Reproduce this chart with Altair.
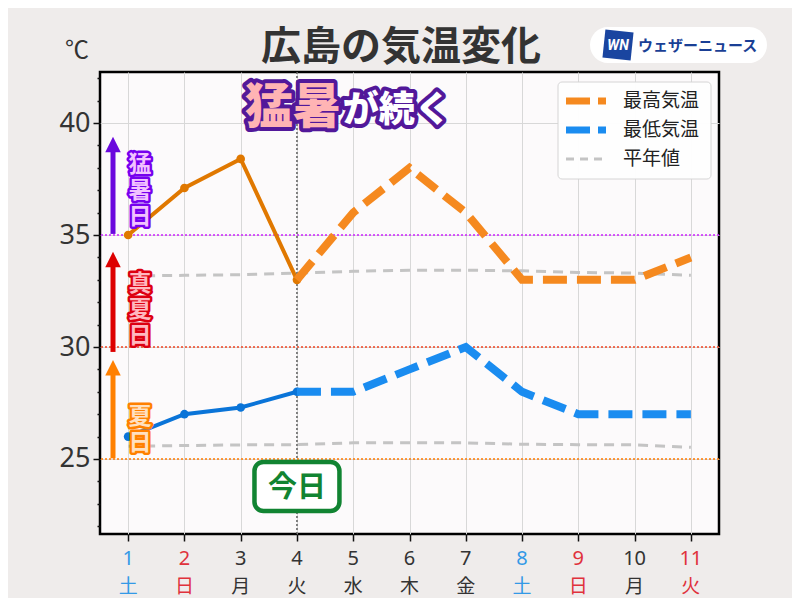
import altair as alt
import pandas as pd

# ---------------- data ----------------
days = list(range(1, 12))
weekdays = ["土", "日", "月", "火", "水", "木", "金", "土", "日", "月", "火"]
day_colors = ["#3399e6", "#e0323c", "#333333", "#333333", "#333333", "#333333",
              "#333333", "#3399e6", "#e0323c", "#333333", "#e0323c"]

obs_days = [1, 2, 3, 4]
obs_high = [35.0, 37.1, 38.4, 33.0]
obs_low = [26.0, 27.0, 27.3, 28.0]

fc_days = [4, 5, 6, 7, 8, 9, 10, 11]
fc_high = [33.0, 36.0, 38.0, 36.0, 33.0, 33.0, 33.0, 34.0]
fc_low = [28.0, 28.0, 29.0, 30.0, 28.0, 27.0, 27.0, 27.0]

normal_high = [33.17, 33.2, 33.23, 33.3, 33.38, 33.43, 33.43, 33.4, 33.33, 33.3, 33.2]
normal_low = [25.57, 25.6, 25.63, 25.64, 25.72, 25.73, 25.72, 25.66, 25.64, 25.63, 25.52]

thresholds = [35, 30, 25]
threshold_colors = ["#cc22ff", "#ee4422", "#ff7a00"]

band_labels = ["猛\n暑\n日", "真\n夏\n日", "夏\n日"]
band_label_y = [38.11, 32.8, 26.86]   # centre of the first character
band_fill = ["#f2c2ff", "#ffb8c0", "#ffe0c0"]
band_stroke = ["#7700ee", "#dd0011", "#ff8000"]
arrow_bottom = [35.05, 29.78, 25.03]
arrow_head = [39.04, 33.91, 29.07]
arrow_colors = ["#6a08dd", "#dd0000", "#ff8000"]

legend_names = ["最高気温", "最低気温", "平年値"]
legend_colors = ["#f5891f", "#1a8cf0", "#c4c4c4"]

today = 4

W, H = 619, 462
FONT = "Noto Sans CJK JP"

xs = alt.Scale(domain=[0.5, 11.5], nice=False, zero=False)
ys = alt.Scale(domain=[21.65, 42.28], nice=False, zero=False)

major = "datum.value % 5 == 0"
x_axis = alt.Axis(
    values=days, labels=False, title=None, domain=False,
    ticks=True, tickSize=7, tickColor="#111", tickWidth=1.5,
    grid=True, gridColor="#d8d8d8", gridWidth=1)
y_axis = alt.Axis(
    values=list(range(22, 43)), title=None, domain=False,
    labelExpr=f"{major} ? datum.label : ''",
    labelFont="Noto Sans", labelFontSize=27, labelColor="#333",
    labelPadding=3,
    tickColor="#111", tickWidth=1.5,
    tickSize={"condition": {"test": major, "value": 7}, "value": 3},
    grid=True, gridColor="#d8d8d8", gridWidth=1,
    gridOpacity={"condition": {"test": major, "value": 1}, "value": 0})

X = lambda f="day": alt.X(f"{f}:Q", scale=xs, axis=x_axis)
Y = lambda f="temp": alt.Y(f"{f}:Q", scale=ys, axis=y_axis)

# ---------------- tables ----------------
normal_df = pd.DataFrame({
    "day": days * 2,
    "temp": normal_high + normal_low,
    "series": ["high"] * len(days) + ["low"] * len(days),
})
obs_df = pd.DataFrame({
    "day": obs_days * 2,
    "temp": obs_high + obs_low,
    "series": ["high"] * len(obs_days) + ["low"] * len(obs_days),
})
fc_df = pd.DataFrame({
    "day": fc_days * 2,
    "temp": fc_high + fc_low,
    "series": ["high"] * len(fc_days) + ["low"] * len(fc_days),
})
thr_df = pd.DataFrame({"temp": thresholds, "color": threshold_colors})
band_df = pd.DataFrame({
    "label": band_labels, "y": band_label_y, "fill": band_fill, "stroke": band_stroke,
    "bottom": arrow_bottom, "head": arrow_head, "acolor": arrow_colors,
    "x": [1.21] * 3, "ax": [0.731] * 3,
})
day_df = pd.DataFrame({"day": days, "num": [str(d) for d in days],
                       "wd": weekdays, "color": day_colors})

# normal lines (also carry the axes)
normal_layer = alt.Chart(normal_df).mark_line(
    color="#c4c4c4", strokeWidth=3, strokeDash=[10, 7]
).encode(x=X(), y=Y(), detail="series:N")

# threshold lines
thr_layer = alt.Chart(thr_df).mark_rule(strokeWidth=1.6, strokeDash=[2, 2]).encode(
    y=Y(), color=alt.Color("color:N", scale=None))

# today vertical line
today_rule = alt.Chart(pd.DataFrame({"day": [today]})).mark_rule(
    color="#555", strokeWidth=1.4, strokeDash=[2, 2]).encode(x=X())

# observed lines + points
obs_color = alt.Color("series:N", scale=alt.Scale(domain=["high", "low"],
                                                  range=["#e07800", "#0a74d8"]), legend=None)
obs_line = alt.Chart(obs_df).mark_line(strokeWidth=4).encode(x=X(), y=Y(), color=obs_color)
obs_pts = alt.Chart(obs_df).mark_circle(size=75, opacity=1).encode(x=X(), y=Y(), color=obs_color)

# forecast lines
fc_color = alt.Color("series:N", scale=alt.Scale(domain=["high", "low"],
                                                 range=["#f5891f", "#1a8cf0"]), legend=None)
fc_line = alt.Chart(fc_df).mark_line(strokeWidth=8, strokeDash=[24, 10]).encode(
    x=X(), y=Y(), color=fc_color)

# arrows
arrow_shaft = alt.Chart(band_df).mark_rule(strokeWidth=5).encode(
    x=X("ax"), y=Y("bottom"), y2="head:Q", color=alt.Color("acolor:N", scale=None))
arrow_tip = alt.Chart(band_df).mark_point(
    shape="M0,-1L1,1L-1,1Z", size=240, filled=True, opacity=1).encode(
    x=X("ax"), y=Y("head"), color=alt.Color("acolor:N", scale=None))

# band labels (outline + fill)
band_outline = alt.Chart(band_df).mark_text(
    font=FONT, fontSize=23, fontWeight="bold", lineBreak="\n", lineHeight=26,
    baseline="middle", align="center", strokeWidth=5, strokeJoin="round").encode(
    x=X("x"), y=Y("y"), text="label:N",
    stroke=alt.Color("stroke:N", scale=None), fill=alt.Color("stroke:N", scale=None))
band_text = alt.Chart(band_df).mark_text(
    font=FONT, fontSize=23, fontWeight="bold", lineBreak="\n", lineHeight=26,
    baseline="middle", align="center").encode(
    x=X("x"), y=Y("y"), text="label:N", fill=alt.Color("fill:N", scale=None))

# headline "猛暑が続く"
head_df = pd.DataFrame({"t": ["猛暑", "が続く"], "x": [3.075, 4.816], "y": [40.62, 40.55],
                        "size": [48, 36], "fill": ["#ffb4b4", "#ffffff"]})
head_outline = alt.Chart(head_df).mark_text(
    font=FONT, fontWeight=900, align="left", baseline="middle",
    stroke="#52189a", strokeWidth=8, strokeJoin="round", fill="#52189a").encode(
    x=X("x"), y=Y("y"), text="t:N", size=alt.Size("size:Q", scale=None))
head_text = alt.Chart(head_df).mark_text(
    font=FONT, fontWeight=900, align="left", baseline="middle").encode(
    x=X("x"), y=Y("y"), text="t:N", size=alt.Size("size:Q", scale=None),
    fill=alt.Color("fill:N", scale=None))

# today box
box_df = pd.DataFrame({"x1": [today - 0.755], "x2": [today + 0.755],
                       "y1": [24.87], "y2": [22.68], "day": [today], "ty": [23.72],
                       "t": ["今日"]})
today_box = alt.Chart(box_df).mark_rect(
    fill="white", stroke="#118432", strokeWidth=4.5, cornerRadius=9).encode(
    x=X("x1"), x2="x2:Q", y=Y("y1"), y2="y2:Q")
today_text = alt.Chart(box_df).mark_text(
    font=FONT, fontSize=29, fontWeight="bold", color="#118432",
    align="center", baseline="middle").encode(x=X("day"), y=Y("ty"), text="t:N")

# x tick labels (two rows)
num_labels = alt.Chart(day_df).mark_text(
    font="Noto Sans", fontSize=20, baseline="middle", align="center").encode(
    x=X(), y=alt.value(H + 25), text="num:N", color=alt.Color("color:N", scale=None))
wd_labels = alt.Chart(day_df).mark_text(
    font=FONT, fontSize=19, baseline="middle", align="center").encode(
    x=X(), y=alt.value(H + 53), text="wd:N", color=alt.Color("color:N", scale=None))

# title, unit
one = pd.DataFrame({"t": ["広島の気温変化"]})
title = alt.Chart(one).mark_text(
    font=FONT, fontSize=40, fontWeight="bold", color="#333", align="center",
    baseline="middle").encode(text="t:N", x=alt.value(301), y=alt.value(-24))
unit = alt.Chart(pd.DataFrame({"t": ["℃"]})).mark_text(
    font=FONT, fontSize=24, color="#333", align="center", baseline="middle").encode(
    text="t:N", x=alt.value(-23), y=alt.value(-21))

# logo
logo_bg = alt.Chart(one).mark_rect(fill="white", cornerRadius=18).encode(
    x=alt.value(490), x2=alt.value(667), y=alt.value(-45), y2=alt.value(-9))
logo_sq = alt.Chart(one).mark_point(
    shape="square", size=800, filled=True, opacity=1, color="#1a45a0", angle=6).encode(
    x=alt.value(518), y=alt.value(-27))
logo_wn = alt.Chart(pd.DataFrame({"t": ["WN"]})).mark_text(
    font="Roboto", fontSize=14, fontWeight="bold", fontStyle="italic", color="white",
    align="center", baseline="middle").encode(text="t:N", x=alt.value(518), y=alt.value(-26))
logo_txt = alt.Chart(pd.DataFrame({"t": ["ウェザーニュース"]})).mark_text(
    font=FONT, fontSize=15, fontWeight="bold", color="#1a3f95",
    align="left", baseline="middle").encode(text="t:N", x=alt.value(538), y=alt.value(-26))

# legend (manual, fixed box in the upper right of the plot)
leg_layers = [
    alt.Chart(one).mark_rect(fill="white", stroke="#d4d4d4", strokeWidth=1,
                             cornerRadius=4, opacity=0.95).encode(
        x=alt.value(458), x2=alt.value(611), y=alt.value(10), y2=alt.value(107))
]
for i, (name, col) in enumerate(zip(legend_names, legend_colors)):
    yy = 29 + 29 * i
    if i < 2:
        rule = alt.Chart(one).mark_rule(color=col, strokeWidth=7, strokeDash=[24, 8]).encode(
            x=alt.value(466), x2=alt.value(506), y=alt.value(yy))
    else:
        rule = alt.Chart(one).mark_rule(color=col, strokeWidth=3, strokeDash=[8, 6]).encode(
            x=alt.value(466), x2=alt.value(506), y=alt.value(yy))
    txt = alt.Chart(pd.DataFrame({"t": [name]})).mark_text(
        font=FONT, fontSize=19, color="#222", align="left", baseline="middle").encode(
        text="t:N", x=alt.value(523), y=alt.value(yy))
    leg_layers += [rule, txt]

chart = alt.layer(
    normal_layer, thr_layer, today_rule,
    obs_line, obs_pts, fc_line,
    arrow_shaft, arrow_tip, band_outline, band_text,
    head_outline, head_text, today_box, today_text,
    num_labels, wd_labels, title, unit,
    logo_bg, logo_sq, logo_wn, logo_txt, *leg_layers,
).resolve_scale(color="independent").properties(
    width=W, height=H,
    autosize=alt.AutoSizeParams(type="none"),
    padding={"left": 92, "top": 64, "right": 73, "bottom": 64},
    background="#efeceb",
).configure_view(fill="#fcfafb", stroke="#000", strokeWidth=2.5)

chart.save("out.html", embed_options={"renderer": "svg", "actions": False})
